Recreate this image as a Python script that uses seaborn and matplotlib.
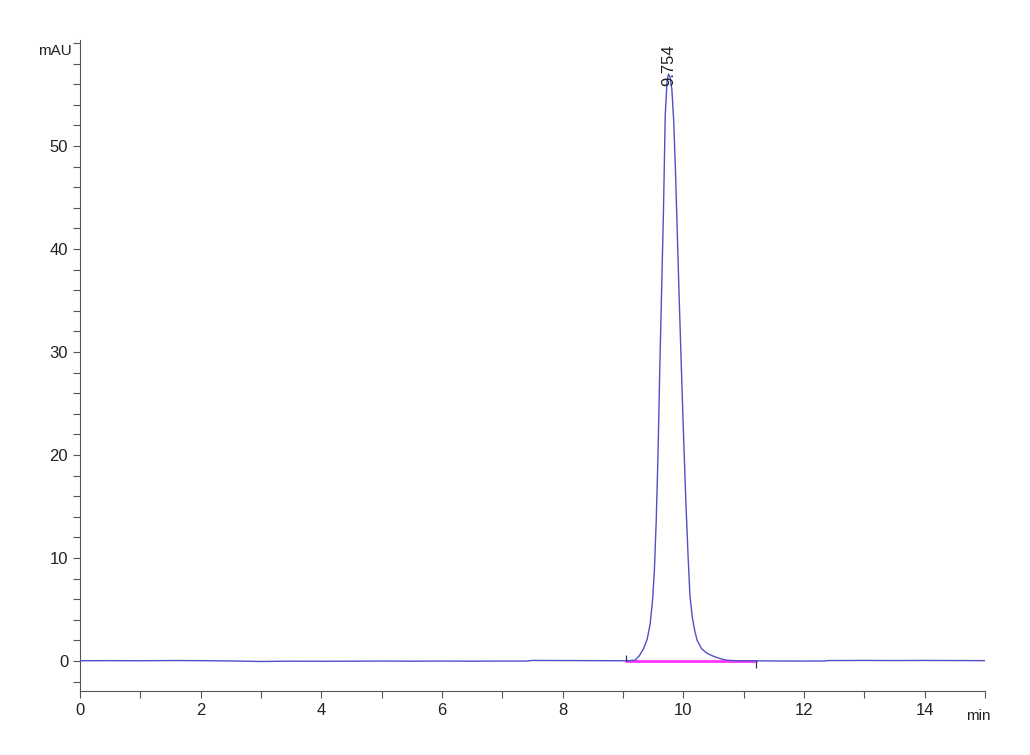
import numpy as np
import pandas as pd
import matplotlib
matplotlib.use("Agg")
import matplotlib.pyplot as plt
import seaborn as sns
from matplotlib.ticker import MultipleLocator, FixedLocator

# chromatogram trace (time in min, signal in mAU)
time_min = [0.0, 0.5, 1.0, 1.5, 2.0, 2.5, 3.0, 3.5, 4.0, 4.5, 5.0, 5.5, 6.0,
            6.5, 7.0, 7.4, 7.5, 8.0, 8.5, 9.0, 9.1, 9.2, 9.27, 9.34, 9.40,
            9.45, 9.49, 9.52, 9.55, 9.58, 9.61, 9.64, 9.67, 9.70, 9.73, 9.754,
            9.78, 9.81, 9.84, 9.87, 9.90, 9.93, 9.96, 10.00, 10.04, 10.08,
            10.11, 10.15, 10.19, 10.23, 10.30, 10.38, 10.48, 10.60, 10.71,
            10.85, 11.0, 11.5, 12.0, 12.35, 12.4, 13.0, 13.5, 14.0, 14.5, 15.0]
signal_mau = [0.02, 0.03, 0.02, 0.04, 0.03, 0.00, -0.05, -0.02, -0.03, -0.02,
              -0.01, -0.02, -0.01, -0.02, -0.01, -0.01, 0.05, 0.04, 0.03, 0.02,
              0.03, 0.08, 0.5, 1.2, 2.1, 3.6, 5.9, 8.8, 13.5, 20.0, 28.5, 36.0,
              43.5, 53.0, 56.3, 57.0, 56.7, 55.5, 52.5, 47.5, 41.5, 35.5, 29.8,
              22.5, 15.7, 10.0, 6.3, 4.2, 2.9, 2.0, 1.2, 0.8, 0.5, 0.25, 0.08,
              0.03, 0.02, 0.0, -0.01, 0.0, 0.04, 0.05, 0.04, 0.05, 0.04, 0.03]

# integration baseline (start / end of the peak)
base_time = [9.05, 11.2]
base_signal = [0.0, 0.0]

peak_rt = 9.754
peak_label = "9.754"
peak_label_y = 55.8

y_labelled = [0, 10, 20, 30, 40, 50]

df = pd.DataFrame({"time": time_min, "signal": signal_mau})
base_df = pd.DataFrame({"t": base_time, "s": base_signal})

sns.set_style("ticks")
plt.rcParams["font.family"] = ["Liberation Sans", "DejaVu Sans"]

fig = plt.figure(figsize=(10.3, 7.55), dpi=100)
ax = fig.add_axes([0.0777, 0.085, 0.8786, 0.862])

sns.lineplot(data=base_df, x="t", y="s", color="#ff33ff", linewidth=2.0,
             ax=ax, estimator=None, zorder=2)
sns.lineplot(data=df, x="time", y="signal", color="#5050c8", linewidth=1.0,
             ax=ax, estimator=None, sort=False, zorder=3)

# small start/end markers of the integration
ax.vlines(base_time[0], base_signal[0], base_signal[0] + 0.6, color="#333366",
          linewidth=0.9, zorder=4)
ax.vlines(base_time[1], base_signal[1] - 0.7, base_signal[1], color="#333366",
          linewidth=0.9, zorder=4)

ax.text(peak_rt, peak_label_y, peak_label, rotation=90, ha="center",
        va="bottom", fontsize=12, color="#222222")

ax.set_xlim(0, 15)
ax.set_ylim(-2.9, 60.3)
ax.xaxis.set_major_locator(MultipleLocator(2))
ax.xaxis.set_minor_locator(MultipleLocator(1))
ax.yaxis.set_major_locator(FixedLocator(y_labelled))
ax.yaxis.set_minor_locator(MultipleLocator(2))
ax.tick_params(axis="both", which="both", length=5, width=0.8,
               color="#555555", labelsize=12, labelcolor="#222222")
ax.set_xlabel("")
ax.set_ylabel("")
for side in ["top", "right"]:
    ax.spines[side].set_visible(False)
for side in ["left", "bottom"]:
    ax.spines[side].set_color("#555555")
    ax.spines[side].set_linewidth(0.8)

fig.text(0.037, 0.933, "mAU", fontsize=11, color="#222222", va="center")
fig.text(0.938, 0.052, "min", fontsize=11, color="#222222", va="center")

fig.savefig("out.png", dpi=100, facecolor="white")
